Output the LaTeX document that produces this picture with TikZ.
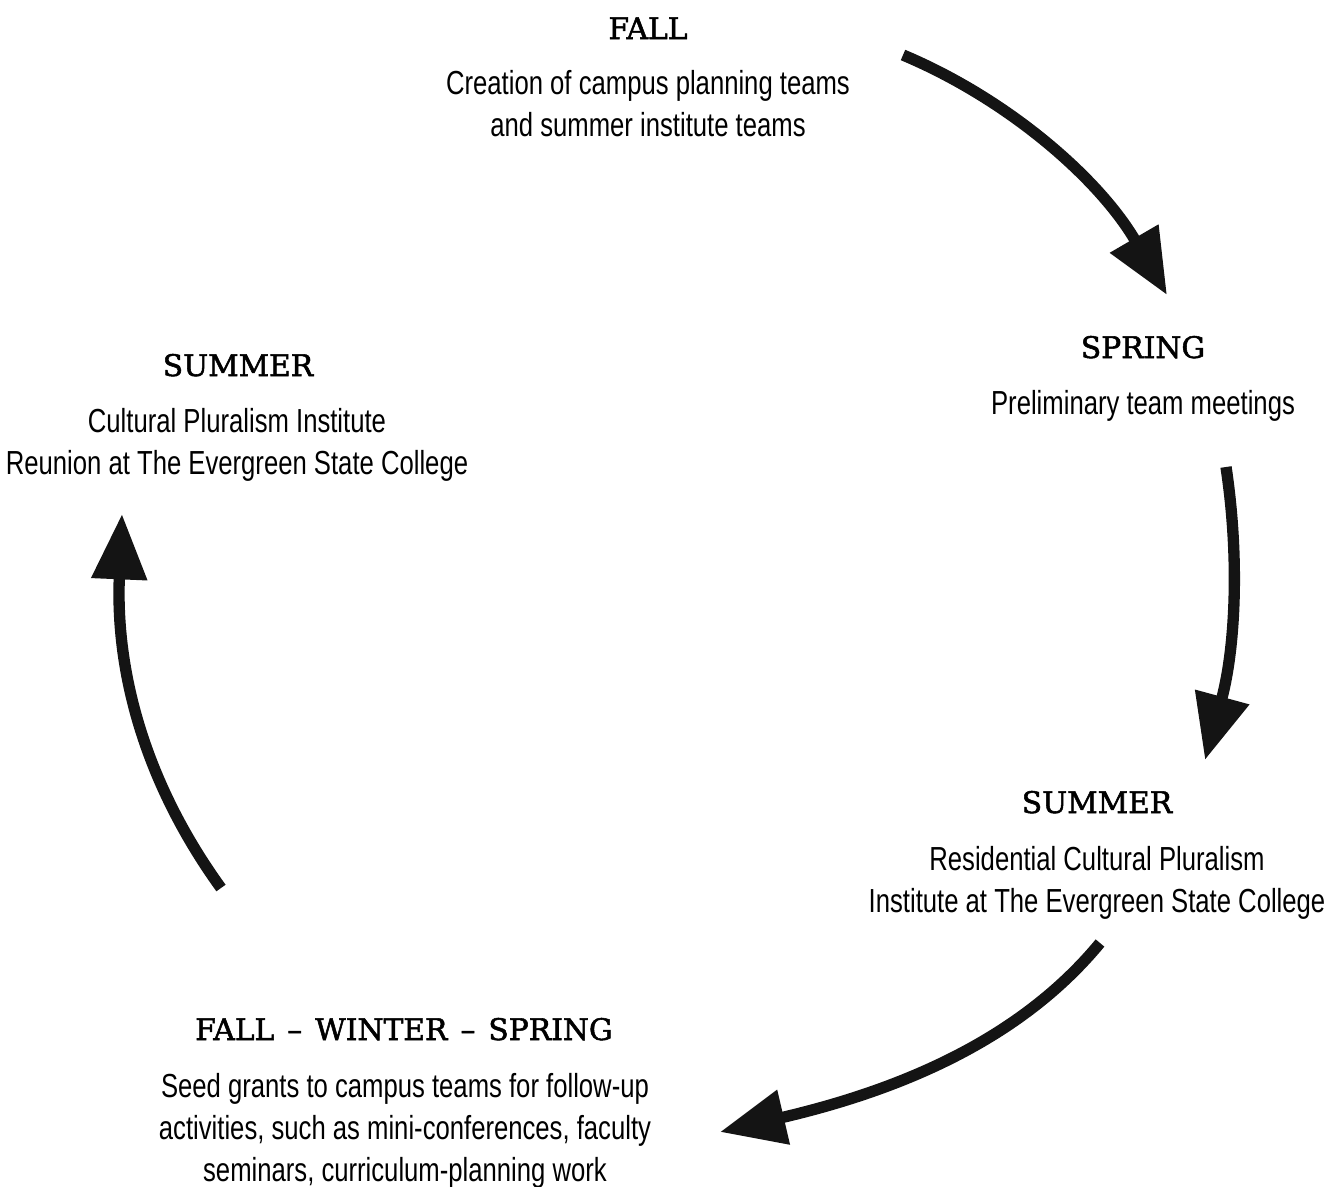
\documentclass[tikz,border=0pt]{standalone}
\usepackage{fontspec}
\usetikzlibrary{arrows.meta}
\newfontfamily\bodyfont[FakeStretch=0.77]{Liberation Sans}
\newfontfamily\headfont[FakeBold=1.8]{DejaVu Serif}
\begin{document}
\begin{tikzpicture}[x=0.75pt,y=-0.75pt,
  head/.style={anchor=base,inner sep=0pt,font=\headfont\fontsize{22.3}{26}\selectfont},
  body/.style={anchor=base,inner sep=0pt,align=center,font=\bodyfont\fontsize{25}{31.5}\selectfont},
  flow/.style={line width=8.5pt,color=black!92,-{Triangle[length=49pt,width=40pt]}}]
\useasboundingbox (0,0) rectangle (1325,1186);
% FALL
\node[head] (fallH) at (648,39) {FALL};
\node[body] (fallB) at (648,136) {Creation of campus planning teams\\and summer institute teams};
% SPRING
\node[head] (springH) at (1143,358) {SPRING};
\node[body] (springB) at (1143,414) {Preliminary team meetings};
% SUMMER right
\node[head] (sumRH) at (1097,813) {SUMMER};
\node[body] (sumRB) at (1097,912) {Residential Cultural Pluralism\\Institute at The Evergreen State College};
% FALL-WINTER-SPRING
\node[head] (fwsH) at (404,1040) {FALL\hspace{0.12em} – \hspace{0.12em}WINTER\hspace{0.12em} – \hspace{0.12em}SPRING};
\node[body] (fwsB) at (405,1181) {Seed grants to campus teams for follow-up\\activities, such as mini-conferences, faculty\\seminars, curriculum-planning work};
% SUMMER left
\node[head] (sumLH) at (238,376) {SUMMER};
\node[body] (sumLB) at (237,474) {Cultural Pluralism Institute\\Reunion at The Evergreen State College};
% arrows
\coordinate (a1s) at (903,55);   \coordinate (a1e) at (1167,295);
\coordinate (a2s) at (1226,467); \coordinate (a2e) at (1205,760);
\coordinate (a3s) at (1100,943); \coordinate (a3e) at (720,1132);
\coordinate (a4s) at (221,888);  \coordinate (a4e) at (122,514);
\draw[flow] (a1s) .. controls (1010,100) and (1100,180) .. (a1e);
\draw[flow] (a2s) .. controls (1240,560) and (1235,650) .. (a2e);
\draw[flow] (a3s) .. controls (1020,1040) and (900,1090) .. (a3e);
\draw[flow] (a4s) .. controls (150,790) and (115,680) .. (a4e);
\end{tikzpicture}
\end{document}
